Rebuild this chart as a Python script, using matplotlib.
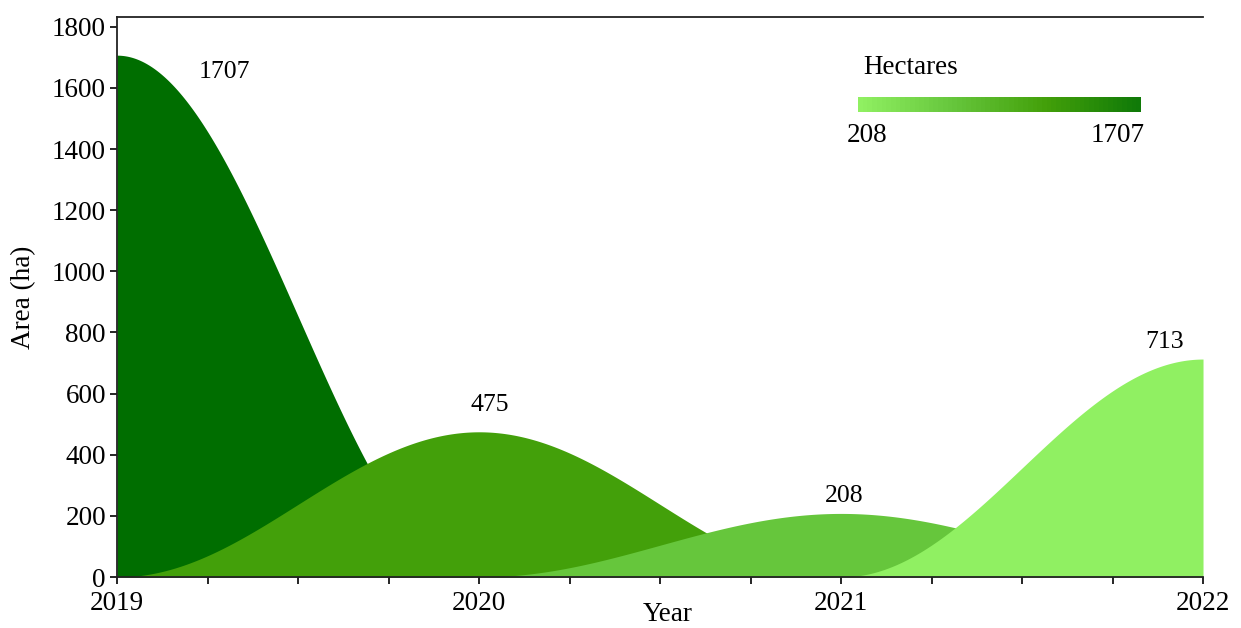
import numpy as np
import matplotlib.pyplot as plt
from matplotlib.colors import LinearSegmentedColormap

plt.rcParams['font.family'] = ['Liberation Serif', 'DejaVu Serif']

years = [2019, 2020, 2021, 2022]
area_ha = [1707, 475, 208, 713]
colors = ['#006e00', '#43a00a', '#66c63c', '#90f062']
label_pos = [(2019.296, 1652), (2020.03, 563), (2021.01, 265), (2021.895, 769)]

fig = plt.figure(figsize=(12.41, 6.28), dpi=100)
ax = fig.add_axes([0.0943, 0.0812, 0.8751, 0.8918])

x = np.linspace(2019, 2022, 1200)
for yr, val, col in zip(years, area_ha, colors):
    d = np.abs(x - yr)
    y = np.where(d < 1, 0.5 * (1 + np.cos(np.pi * d)), 0) * val
    ax.fill_between(x, 0, y, color=col, lw=0)

for (lx, ly), val in zip(label_pos, area_ha):
    ax.text(lx, ly, str(val), ha='center', va='center', fontsize=18.5)

ax.set_xlim(2019, 2022)
ax.set_ylim(0, 1832)
ax.set_xticks(years)
ax.set_xticks(np.arange(2019, 2022.01, 0.25), minor=True)
ax.set_yticks(range(0, 1801, 200))
ax.tick_params(axis='both', labelsize=19.5, length=5, width=1.2, direction='out')
ax.tick_params(axis='x', which='minor', length=5, width=1.2)
ax.tick_params(axis='x', pad=5)
ax.tick_params(axis='y', pad=3)
ax.spines['right'].set_visible(False)
for s in ['top', 'left', 'bottom']:
    ax.spines[s].set_linewidth(1.3)
    ax.spines[s].set_color('#222222')
ax.set_xlabel('Year', fontsize=19.5, labelpad=-9)
ax.xaxis.set_label_coords(0.507, -0.045)
ax.set_ylabel('Area (ha)', fontsize=19.5, labelpad=11)

# gradient legend
cmap = LinearSegmentedColormap.from_list('hect', [colors[3], colors[2], colors[1], '#107a08'])
cax = fig.add_axes([858 / 1241, 1 - 112 / 628, (1141 - 858) / 1241, 15 / 628])
cax.imshow(np.linspace(0, 1, 60).reshape(1, -1), aspect='auto', cmap=cmap)
cax.set_axis_off()
fig.text(863 / 1241, 1 - 67 / 628, 'Hectares', fontsize=19.5, va='center', ha='left')
fig.text(847 / 1241, 1 - 135 / 628, str(min(area_ha)), fontsize=19.5, va='center', ha='left')
fig.text(1145 / 1241, 1 - 135 / 628, str(max(area_ha)), fontsize=19.5, va='center', ha='right')

fig.savefig('out.png', dpi=100)
